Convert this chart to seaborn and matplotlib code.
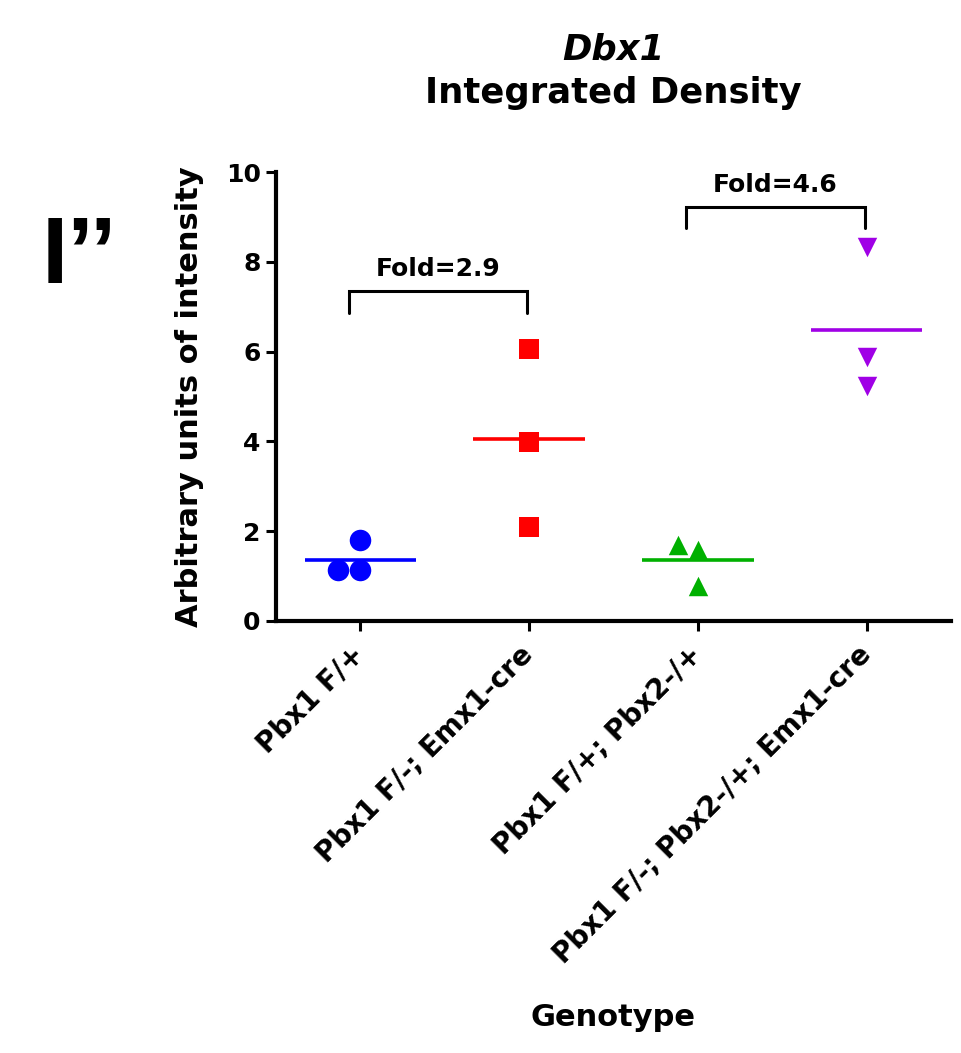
import numpy as np
import pandas as pd
import seaborn as sns
import matplotlib.pyplot as plt

# values
genotypes = ["Pbx1 F/+", "Pbx1 F/-; Emx1-cre", "Pbx1 F/+; Pbx2-/+", "Pbx1 F/-; Pbx2-/+; Emx1-cre"]
pbx1_het = [1.80, 1.14, 1.14]
pbx1_cko = [6.06, 3.99, 2.09]
pbx2_het = [1.69, 1.58, 0.78]
pbx12_cko = [8.33, 5.88, 5.23]
fold_labels = ["Fold=2.9", "Fold=4.6"]
fold_pairs = [(0, 1), (2, 3)]

colors = ["#0000FF", "#FF0000", "#00B000", "#A000E6"]
markers = ["o", "s", "^", "v"]
msizes = [15.5, 14.5, 14, 14]

groups = [pbx1_het, pbx1_cko, pbx2_het, pbx12_cko]
df = pd.DataFrame({
    "Genotype": np.repeat(genotypes, [len(g) for g in groups]),
    "value": np.concatenate(groups),
})

sns.set_style("ticks")
plt.rcParams["font.family"] = ["DejaVu Sans"]
plt.rcParams["font.weight"] = "bold"
for k in ["text.color", "axes.labelcolor", "xtick.color", "ytick.color", "axes.edgecolor"]:
    plt.rcParams[k] = "black"

fig = plt.figure(figsize=(9.61, 10.53), dpi=100)
ax = fig.add_axes([276 / 961, 1 - 621 / 1053, 675 / 961, 449 / 1053])

for i, g in enumerate(genotypes):
    sub = df[df["Genotype"] == g]
    sns.swarmplot(data=sub, x="Genotype", y="value", order=genotypes, ax=ax,
                  marker=markers[i], color=colors[i], size=msizes[i], linewidth=0)
    # mean line
    ax.hlines(sub["value"].mean(), i - 0.33, i + 0.33, color=colors[i], lw=2.6, zorder=1)

# fold brackets
bracket_y = [(6.86, 7.35), (8.75, 9.22)]
for (a, b), lab, (y0, y1) in zip(fold_pairs, fold_labels, bracket_y):
    ax.plot([a - 0.07, a - 0.07, b - 0.01, b - 0.01], [y0, y1, y1, y0], color="black", lw=2.2,
            solid_joinstyle="miter", clip_on=False)
    ax.text((a + b) / 2 - 0.04, y1 + 0.22, lab, ha="center", va="bottom", fontsize=18,
            fontweight="bold")

ax.set_xlim(-0.5, 3.5)
ax.set_ylim(0, 10)
ax.set_yticks([0, 2, 4, 6, 8, 10])
sns.despine(ax=ax)
for s in ["left", "bottom"]:
    ax.spines[s].set_linewidth(3)
    ax.spines[s].set_color("black")
ax.tick_params(axis="both", width=2.2, length=7, labelsize=18, color="black", labelcolor="black")
ax.tick_params(axis="y", pad=4)
for t in ax.get_yticklabels():
    t.set_fontweight("bold")
ax.set_xticks(range(len(genotypes)))
ax.set_xticklabels(genotypes, rotation=45, ha="right", va="center", rotation_mode="anchor",
                   fontsize=20, fontweight="bold")
ax.tick_params(axis="x", pad=14)

ax.set_ylabel("Arbitrary units of intensity", fontsize=22, fontweight="bold")
ax.yaxis.set_label_coords(-0.107, 0.5)
ax.set_xlabel("Genotype", fontsize=22, fontweight="bold")
ax.xaxis.set_label_coords(0.5, -0.85)

# title
ax.text(0.5, (621 - 60) / 449, "Dbx1", transform=ax.transAxes, ha="center",
        va="baseline", fontsize=25.5, fontweight="bold", fontstyle="italic")
ax.text(0.5, (621 - 103) / 449, "Integrated Density", transform=ax.transAxes,
        ha="center", va="baseline", fontsize=25.5, fontweight="bold")

# panel letter
fig.text(42 / 961, 1 - 283 / 1053, "I\u2019\u2019", fontsize=68, fontweight="bold",
         va="baseline", family=["Liberation Sans", "DejaVu Sans"])

fig.savefig("out.png", dpi=100)
